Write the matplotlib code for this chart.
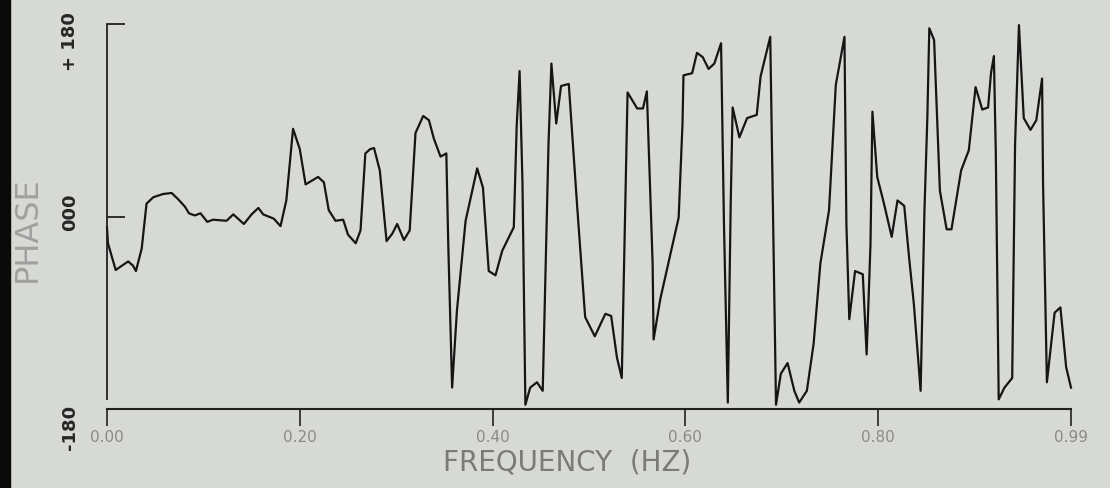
"""
phase spectrum plot, old plotter style
"""
import numpy as np
import matplotlib
matplotlib.use("Agg")
import matplotlib.pyplot as plt
from matplotlib.patches import Rectangle

# frequency (Hz) and phase (deg)
freq = [0.000, 0.001, 0.009, 0.022, 0.027, 0.030, 0.036, 0.041, 0.048, 0.058,
        0.067, 0.074, 0.081, 0.085, 0.091, 0.097, 0.104, 0.110, 0.124, 0.131,
        0.142, 0.150, 0.157, 0.162, 0.173, 0.180, 0.186, 0.190, 0.193, 0.200,
        0.206, 0.219, 0.225, 0.230, 0.237, 0.245, 0.250, 0.258, 0.263, 0.268,
        0.273, 0.277, 0.283, 0.290, 0.296, 0.301, 0.308, 0.314, 0.320, 0.328,
        0.334, 0.339, 0.346, 0.352, 0.354, 0.358, 0.363, 0.372, 0.384, 0.390,
        0.396, 0.403, 0.410, 0.422, 0.425, 0.428, 0.431, 0.434, 0.439, 0.446,
        0.452, 0.458, 0.461, 0.466, 0.471, 0.479, 0.488, 0.496, 0.506, 0.517,
        0.523, 0.529, 0.534, 0.540, 0.550, 0.556, 0.560, 0.566, 0.567, 0.574,
        0.593, 0.597, 0.598, 0.607, 0.612, 0.618, 0.624, 0.630, 0.637, 0.640,
        0.644, 0.647, 0.649, 0.656, 0.664, 0.674, 0.678, 0.688, 0.690, 0.694,
        0.699, 0.706, 0.713, 0.718, 0.726, 0.733, 0.740, 0.749, 0.756, 0.765,
        0.767, 0.770, 0.776, 0.784, 0.788, 0.792, 0.794, 0.799, 0.806, 0.814,
        0.820, 0.827, 0.832, 0.837, 0.844, 0.848, 0.851, 0.853, 0.858, 0.864,
        0.871, 0.876, 0.886, 0.894, 0.901, 0.908, 0.914, 0.917, 0.920, 0.922,
        0.925, 0.931, 0.939, 0.942, 0.946, 0.951, 0.958, 0.964, 0.970, 0.971,
        0.975, 0.983, 0.989, 0.995, 1.000]
phase = [-10, -25, -50, -42, -46, -51, -30, 12, 18, 21,
         22, 16, 9, 3, 1, 3, -5, -3, -4, 2,
         -7, 2, 8, 2, -2, -9, 15, 53, 82, 63,
         30, 37, 32, 6, -4, -3, -17, -25, -13, 59,
         63, 64, 43, -23, -16, -7, -22, -13, 78, 94,
         90, 73, 56, 59, -26, -160, -88, -4, 45, 27,
         -51, -55, -32, -10, 85, 136, 31, -176, -160, -155,
         -163, 68, 143, 87, 122, 124, 6, -94, -112, -91,
         -93, -132, -151, 116, 101, 101, 117, -44, -115, -77,
         -1, 87, 132, 134, 153, 149, 138, 143, 162, -7,
         -174, 12, 102, 74, 92, 95, 131, 168, 53, -176,
         -147, -137, -163, -174, -163, -119, -44, 6, 123, 168,
         -7, -96, -51, -54, -129, -26, 98, 37, 12, -19,
         15, 10, -38, -82, -163, 6, 93, 176, 165, 24,
         -12, -12, 43, 62, 121, 100, 102, 134, 150, 59,
         -171, -160, -151, 68, 179, 92, 81, 90, 129, 31,
         -155, -90, -85, -141, -160]

xticks = [0.0, 0.2, 0.4, 0.6, 0.8, 1.0]
xtick_labels = ["0.00", "0.20", "0.40", "0.60", "0.80", "0.99"]

bg = "#d7dad4"

fig = plt.figure(figsize=(11.1, 4.88), dpi=100, facecolor=bg)
ax = fig.add_axes([107 / 1110, 79 / 488, 964 / 1110, 385 / 488])
ax.set_facecolor(bg)

ax.plot(freq, phase, color="#151515", lw=1.6, clip_on=False)

ax.set_xlim(0, 1)
ax.set_ylim(-180, 180)

for s in ["top", "right"]:
    ax.spines[s].set_visible(False)
ax.spines["left"].set_bounds(-171, 180)
ax.spines["left"].set_linewidth(1.3)
ax.spines["left"].set_color("#202020")
ax.spines["bottom"].set_linewidth(1.5)
ax.spines["bottom"].set_color("#202020")

ax.set_xticks(xticks)
ax.set_xticklabels(xtick_labels)
ax.tick_params(axis="x", direction="out", length=12, width=1.2, color="#202020",
               pad=3, labelsize=11, labelcolor="#8a8a8a")
ax.set_yticks([180, 0])
ax.set_yticklabels(["", ""])
ax.tick_params(axis="y", direction="in", length=13, width=1.3, color="#202020")

# rotated y labels, plotter style
ylab_kw = dict(rotation=90, ha="center", va="center", fontsize=13,
               fontweight="bold", color="#262626")
fig.text(70 / 1110, 1 - 42 / 488, "+ 180", **ylab_kw)
fig.text(70 / 1110, 1 - 212 / 488, "000", **ylab_kw)
fig.text(70 / 1110, 1 - 427 / 488, "-180", **ylab_kw)

fig.text(567 / 1110, 1 - 463 / 488, "FREQUENCY  (HZ)", ha="center", va="center",
         fontsize=20, color="#7a7a7a")
fig.text(27 / 1110, 1 - 229 / 488, "PHASE", rotation=90, ha="center",
         va="center", fontsize=23, color="#a0a0a0")

# dark scan edge on the left
fig.patches.append(Rectangle((0, 0), 10 / 1110, 1, transform=fig.transFigure,
                             color="#0a0a0a", zorder=0))

fig.savefig("out.png", dpi=100, facecolor=bg)
